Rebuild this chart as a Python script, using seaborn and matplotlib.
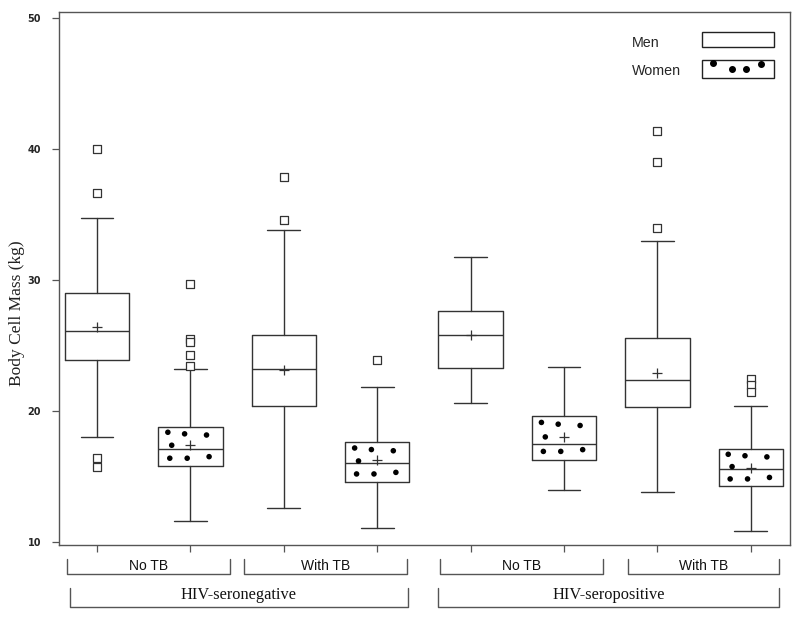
import numpy as np
import pandas as pd
import matplotlib
matplotlib.use("Agg")
import matplotlib.pyplot as plt
import seaborn as sns
from matplotlib.patches import Rectangle
from matplotlib.transforms import blended_transform_factory

# Box statistics (kg)
sex = ["Men", "Women"] * 4
tb = ["No TB", "No TB", "With TB", "With TB"] * 2
hiv = ["HIV-seronegative"] * 4 + ["HIV-seropositive"] * 4
q1 = [23.9, 15.8, 20.35, 14.6, 23.3, 16.25, 20.3, 14.25]
median = [26.1, 17.1, 23.2, 16.0, 25.8, 17.45, 22.4, 15.55]
q3 = [29.0, 18.8, 25.8, 17.6, 27.6, 19.6, 25.6, 17.1]
mean = [26.4, 17.4, 23.1, 16.3, 25.8, 18.0, 22.9, 15.65]
whisker_lo = [18.0, 11.6, 12.6, 11.05, 20.6, 14.0, 13.8, 10.85]
whisker_hi = [34.7, 23.2, 33.8, 21.85, 31.75, 23.35, 33.0, 20.4]
outliers = [[40.0, 36.6, 16.4, 15.7],
            [29.7, 25.5, 25.3, 24.3, 23.4],
            [37.85, 34.6],
            [23.9],
            [],
            [],
            [41.35, 39.0, 33.95],
            [22.45, 22.0, 21.45]]

LINE = "#333333"
W, H = 800, 620

sns.set_style("ticks")
plt.rcParams['font.family'] = ['Liberation Sans', 'DejaVu Sans']

fig = plt.figure(figsize=(W / 100, H / 100), dpi=100)
ax = fig.add_axes([59 / W, 1 - 545 / H, 731 / W, 533 / H])

pos = np.arange(len(sex))
stats = [dict(med=median[i], q1=q1[i], q3=q3[i], whislo=whisker_lo[i],
              whishi=whisker_hi[i], fliers=[]) for i in pos]
lp = dict(color=LINE, linewidth=1)
ax.bxp(stats, positions=pos, widths=0.69, capwidths=0.35, showfliers=False,
       boxprops=lp, medianprops=lp, whiskerprops=lp, capprops=lp,
       manage_ticks=False)

# outliers and means
out_df = pd.DataFrame([(p, v) for p, vals in zip(pos, outliers) for v in vals],
                      columns=["pos", "value"])
sns.scatterplot(data=out_df, x="pos", y="value", marker="s", s=28,
                facecolor="white", edgecolor=LINE, linewidth=0.9, ax=ax, zorder=3)
mean_df = pd.DataFrame({"pos": pos, "value": mean})
sns.scatterplot(data=mean_df, x="pos", y="value", marker="+", s=55,
                color=LINE, linewidth=0.9, ax=ax, zorder=3)

# dot fill pattern for the women boxes (relative to box extents)
fx = np.array([0.15, 0.41, 0.75, 0.21, 0.18, 0.45, 0.79])
fy = np.array([0.86, 0.82, 0.79, 0.53, 0.20, 0.20, 0.24])
dots = []
for i in pos:
    if sex[i] == "Women":
        for a, b in zip(fx, fy):
            dots.append((i - 0.345 + a * 0.69, q1[i] + b * (q3[i] - q1[i])))
dot_df = pd.DataFrame(dots, columns=["x", "y"])
sns.scatterplot(data=dot_df, x="x", y="y", marker="o", s=16, color="black",
                edgecolor="none", ax=ax, zorder=3)

ax.set_xlim(-0.407, 7.42)
ax.set_ylim(9.78, 50.44)
ax.set_xticks(pos)
ax.set_xticklabels([])
ax.set_yticks([10, 20, 30, 40, 50])
ax.set_yticklabels(["10", "20", "30", "40", "50"], fontsize=7, fontweight="bold",
                   family="DejaVu Sans")
ax.tick_params(axis="both", direction="out", length=5, width=0.9, color="#555555")
ax.tick_params(axis="y", pad=8)
ax.set_xlabel("")
ax.set_ylabel("Body Cell Mass (kg)", family="Liberation Serif", fontsize=12.5,
              color="#222222")
ax.yaxis.set_label_coords(-0.047, 0.435)
for sp in ax.spines.values():
    sp.set_color("#555555")
    sp.set_linewidth(1)

# group brackets below the axis
tr = blended_transform_factory(ax.transData, fig.transFigure)
def fy_(py):
    return 1 - py / H

sub_brackets = [(-0.32, 1.42, "No TB"), (1.57, 3.32, "With TB"),
                (3.67, 5.42, "No TB"), (5.69, 7.30, "With TB")]
for x0, x1, lab in sub_brackets:
    ax.plot([x0, x0, x1, x1], [fy_(559), fy_(574), fy_(574), fy_(559)],
            color="#555555", lw=1, transform=tr, clip_on=False)
    ax.text((x0 + x1) / 2, fy_(566), lab, transform=tr, ha="center", va="center",
            fontsize=10, color="#111111")

main_brackets = [(-0.29, 3.33, "HIV-seronegative"), (3.65, 7.30, "HIV-seropositive")]
for x0, x1, lab in main_brackets:
    ax.plot([x0, x0, x1, x1], [fy_(588), fy_(607), fy_(607), fy_(588)],
            color="#555555", lw=1, transform=tr, clip_on=False)
    ax.text((x0 + x1) / 2, fy_(595), lab, transform=tr, ha="center", va="center",
            fontsize=11.8, family="Liberation Serif", color="#111111")

# legend
ft = fig.transFigure
fig.text(632 / W, fy_(43), "Men", ha="left", va="center", fontsize=10.3)
fig.text(632 / W, fy_(71), "Women", ha="left", va="center", fontsize=10.3)
fig.add_artist(Rectangle((702 / W, fy_(47)), 72 / W, 15 / H, transform=ft,
                         facecolor="white", edgecolor="#222222", lw=1))
fig.add_artist(Rectangle((702 / W, fy_(78)), 72 / W, 18 / H, transform=ft,
                         facecolor="white", edgecolor="#222222", lw=1))
leg_dots_x = [713, 732, 746, 761]
leg_dots_y = [63, 69, 69, 64]
fig.add_artist(plt.Line2D([x / W for x in leg_dots_x], [fy_(y) for y in leg_dots_y],
                          transform=ft, ls="none", marker="o", ms=4,
                          color="black"))

fig.savefig("out.png", dpi=100)
